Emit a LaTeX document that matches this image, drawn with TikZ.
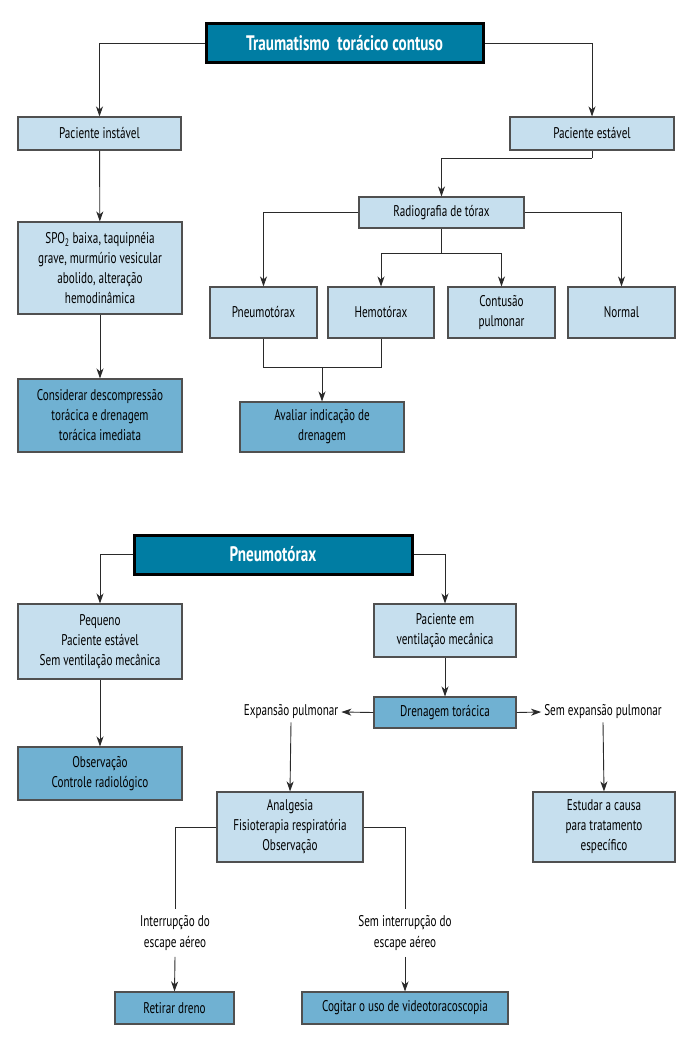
\documentclass[tikz,border=0pt]{standalone}
\usepackage{fontspec}
\setmainfont{PT Sans}[FakeStretch=0.72]
\usetikzlibrary{arrows.meta}
\definecolor{hdr}{HTML}{007DA3}
\definecolor{lightf}{HTML}{C6DFEE}
\definecolor{darkf}{HTML}{70B1D2}
\definecolor{edge}{HTML}{505050}
\definecolor{ln}{HTML}{2A2A2A}
\begin{document}
\begin{tikzpicture}[x=1pt,y=-1pt,
  base/.style={draw=edge,line width=1.1pt,inner sep=0pt,align=center,font=\fontsize{15.5}{20}\selectfont,text=black},
  lbox/.style={base,fill=lightf},
  dbox/.style={base,fill=darkf},
  hbox/.style={draw=black,line width=3pt,fill=hdr,inner sep=0pt,text=white,font=\fontsize{21}{22}\selectfont\bfseries},
  lbl/.style={inner sep=3pt,align=center,font=\fontsize{15.5}{21}\selectfont},
  conn/.style={draw=ln,line width=0.9pt},
  arr/.style={conn,-{Stealth[length=10pt,width=7pt,inset=3pt]}}
]
\useasboundingbox (0,0) rectangle (696,1054);
\fill[white] (0,0) rectangle (696,1054);

% ---------- Part 1 ----------
\node[hbox,minimum width=277pt,minimum height=39pt] (top) at (344.5,43.5) {Traumatismo~ torácico contuso};
\node[lbox,minimum width=163pt,minimum height=33pt] (inst) at (99.5,133.5) {Paciente instável};
\node[lbox,minimum width=164pt,minimum height=33pt] (est) at (592,133.5) {Paciente estável};
\node[lbox,minimum width=164pt,minimum height=92pt] (spo) at (100,268) {SPO\textsubscript{2} baixa, taquipnéia\\grave, murmúrio vesicular\\abolido, alteração\\hemodinâmica};
\node[dbox,minimum width=164pt,minimum height=73pt] (cons) at (100,415.5) {Considerar descompressão\\torácica e drenagem\\torácica imediata};
\node[lbox,minimum width=165pt,minimum height=31pt] (radio) at (441.5,212.5) {Radiografia de tórax};
\node[lbox,minimum width=107pt,minimum height=51pt] (pneumo) at (263.5,312.5) {Pneumotórax};
\node[lbox,minimum width=106pt,minimum height=51pt] (hemo) at (381,312.5) {Hemotórax};
\node[lbox,minimum width=107pt,minimum height=51pt] (contu) at (501.5,312.5) {Contusão\\pulmonar};
\node[lbox,minimum width=107pt,minimum height=51pt] (normal) at (621.5,312.5) {Normal};
\node[dbox,minimum width=164pt,minimum height=50pt] (aval) at (322,427) {Avaliar indicação de\\drenagem};

\coordinate (estj) at (592,158);
\coordinate (radj) at (441.5,253);
\coordinate (pnj) at (322,367);

\draw[arr] (top.west) -| (inst.north);
\draw[arr] (top.east) -| (est.north);
\draw[arr] (inst) -- (spo);
\draw[arr] (spo) -- (cons);
\draw[conn] (est.south) -- (estj);
\draw[arr] (estj) -| (radio.north);
\draw[arr] (radio.west) -| (pneumo.north);
\draw[arr] (radio.east) -| (normal.north);
\draw[conn] (radio.south) -- (radj);
\draw[arr] (radj) -| (hemo.north);
\draw[arr] (radj) -| (contu.north);
\draw[conn] (pneumo.south) |- (pnj);
\draw[conn] (hemo.south) |- (pnj);
\draw[arr] (pnj) -- (aval.north);

% ---------- Part 2 ----------
\node[hbox,minimum width=278pt,minimum height=39pt] (ph) at (273,554.5) {Pneumotórax};
\node[lbox,minimum width=164pt,minimum height=75pt] (peq) at (100,641.5) {Pequeno\\Paciente estável\\Sem ventilação mecânica};
\node[dbox,minimum width=164pt,minimum height=53pt] (obs) at (100,773.5) {Observação\\Controle radiológico};
\node[lbox,minimum width=142pt,minimum height=53pt] (vent) at (445,630.5) {Paciente em\\ventilação mecânica};
\node[dbox,minimum width=142pt,minimum height=31pt] (dren) at (445,712.5) {Drenagem torácica};
\node[lbl] (exp) at (291,712) {Expansão pulmonar};
\node[lbl] (semexp) at (603,712) {Sem expansão pulmonar};
\node[lbox,minimum width=146pt,minimum height=70pt] (analg) at (290,827) {Analgesia\\Fisioterapia respiratória\\Observação};
\node[lbox,minimum width=142pt,minimum height=70pt] (estud) at (604,827) {Estudar a causa\\para tratamento\\específico};
\node[lbl,inner sep=6pt] (intr) at (175,933) {Interrupção do\\escape aéreo};
\node[lbl,inner sep=6pt] (semint) at (405,933) {Sem interrupção do\\escape aéreo};
\node[dbox,minimum width=119pt,minimum height=32pt] (ret) at (174.5,1008) {Retirar dreno};
\node[dbox,minimum width=206pt,minimum height=32pt] (cog) at (405,1008) {Cogitar o uso de videotoracoscopia};

\draw[arr] (ph.west) -| (peq.north);
\draw[arr] (ph.east) -| (vent.north);
\draw[arr] (peq) -- (obs);
\draw[arr] (vent) -- (dren);
\draw[arr] (dren.west) -- (exp.east);
\draw[arr] (dren.east) -- (semexp.west);
\draw[arr] (exp.south) -- (analg.north);
\draw[arr] (semexp.south) -- (estud.north);
\draw[conn] (analg.west) -| (intr.north);
\draw[conn] (analg.east) -| (semint.north);
\draw[arr] (intr.south) -- (ret.north);
\draw[arr] (semint.south) -- (cog.north);
\end{tikzpicture}
\end{document}
